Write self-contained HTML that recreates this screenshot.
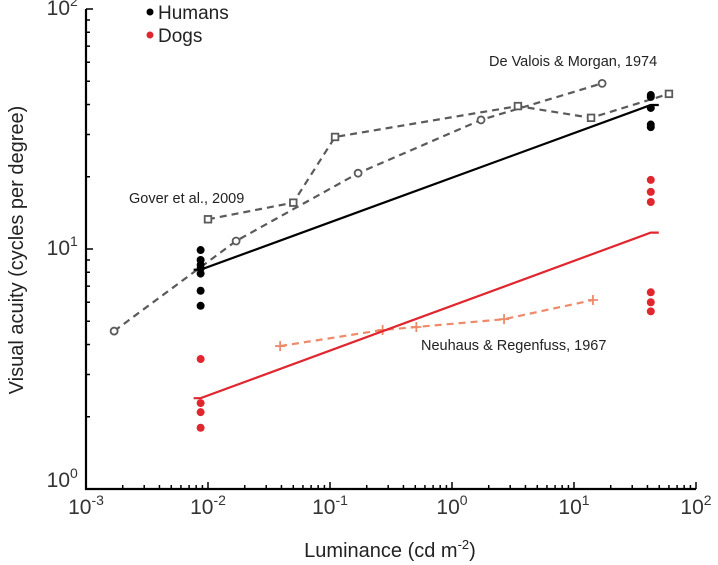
<!DOCTYPE html>
<html><head><meta charset="utf-8"><style>
body{margin:0;background:#fff}
svg{display:block;font-family:"Liberation Sans",sans-serif}
</style></head><body>
<svg id="chart" width="718" height="565"></svg>
<script>
const humansLo=[9.9,9.0,8.6,8.3,7.9,6.7,5.8];
const humansHi=[43.8,43,38.7,33,32.2];
const dogsLo=[3.48,2.28,2.09,1.8];
const dogsHi=[19.4,17.3,15.7,6.6,6.0,5.5];
const xLo=0.0087, xHi=42.6;
const humanFit=[8.2,39.8];
const dogFit=[2.39,11.7];
const goverCircX=[0.0017,0.017,0.17,1.73,17];
const goverCircY=[4.55,10.8,20.7,34.5,49];
const devaloisX=[0.01,0.05,0.11,3.47,13.8,60];
const devaloisY=[13.3,15.6,29.3,39.4,35.2,44.3];
const neuhausX=[0.039,0.27,0.51,2.67,14.3];
const neuhausY=[3.94,4.6,4.73,5.1,6.13];
const xTickExp=[-3,-2,-1,0,1,2];
const yTickExp=[0,1,2];

const NS="http://www.w3.org/2000/svg";
const svg=document.getElementById('chart');
const X0=86,XD=122,Y0=489,YD=240;
const sx=v=>X0+XD*(Math.log10(v)+3);
const sy=v=>Y0-YD*Math.log10(v);
function el(tag,attrs,parent){const e=document.createElementNS(NS,tag);for(const k in attrs)e.setAttribute(k,attrs[k]);(parent||svg).appendChild(e);return e;}

const axes=el('g',{});


el('path',{d:`M${X0} ${Y0-480}V${Y0}H${X0+XD*5}`,fill:'none',stroke:'#000','stroke-width':2.2},axes);
for(let d=-3;d<2;d++){for(let m=2;m<=10;m++){const x=sx(m*Math.pow(10,d));el('line',{x1:x,x2:x,y1:Y0,y2:Y0-(m==10?7:4),stroke:'#000','stroke-width':1.5},axes);}}
for(let d=0;d<2;d++){for(let m=2;m<=10;m++){const y=sy(m*Math.pow(10,d));el('line',{x1:X0,x2:X0+(m==10?7:4),y1:y,y2:y,stroke:'#000','stroke-width':1.5},axes);}}
xTickExp.forEach(e=>{const t=el('text',{x:sx(Math.pow(10,e)),y:Y0+25,'text-anchor':'middle','font-size':21,fill:'#333'},axes);


t.innerHTML=`10<tspan dy="-9" font-size="14">${e}</tspan>`;});
yTickExp.forEach(e=>{const yy=sy(Math.pow(10,e));const t=el('text',{x:X0-16,y:(e==0?yy-2:yy+6),'text-anchor':'end','font-size':21,fill:'#333'},axes);


t.innerHTML=`10<tspan dy="-9" font-size="14" x="${X0-16}" text-anchor="start">${e}</tspan>`;});
const xt=el('text',{x:390,y:557,'text-anchor':'middle','font-size':20,fill:'#222'});


xt.innerHTML='Luminance (cd m<tspan dy="-8" font-size="13">-2</tspan><tspan dy="8">)</tspan>';
const yt=el('text',{x:0,y:0,'text-anchor':'middle','font-size':20,fill:'#222',transform:'translate(23,250) rotate(-90)'});


yt.textContent='Visual acuity (cycles per degree)';

function dashed(xs,ys,color,name){
 const p=el('polyline',{points:xs.map((x,i)=>sx(x)+','+sy(ys[i])).join(' '),fill:'none',stroke:color,'stroke-width':2.2,'stroke-dasharray':'7,5'});
 
 
}
dashed(goverCircX,goverCircY,'#5a5a5a','gover-line');
dashed(devaloisX,devaloisY,'#5a5a5a','devalois-line');
dashed(neuhausX,neuhausY,'#ee8a6a','neuhaus-line');
goverCircX.forEach((x,i)=>{const c=el('circle',{cx:sx(x),cy:sy(goverCircY[i]),r:3.5,fill:'#fff',stroke:'#5a5a5a','stroke-width':1.8});

});
devaloisX.forEach((x,i)=>{const r=el('rect',{x:sx(x)-3.3,y:sy(devaloisY[i])-3.3,width:6.6,height:6.6,fill:'#fff',stroke:'#5a5a5a','stroke-width':1.8});

});
neuhausX.forEach((x,i)=>{const g=el('path',{d:`M${sx(x)-5} ${sy(neuhausY[i])}h10M${sx(x)} ${sy(neuhausY[i])-5}v10`,stroke:'#ee8a6a','stroke-width':1.8});

});

function fit(vals,color,name){
 const x1=sx(xLo),x2=sx(xHi),y1=sy(vals[0]),y2=sy(vals[1]);
 const p=el('path',{d:`M${x1-7} ${y1}H${x1}L${x2} ${y2}H${x2+8}`,fill:'none',stroke:color,'stroke-width':2.2});
 
 
}
fit(humanFit,'#000','human-fit-line');
fit(dogFit,'#e0262e','dog-fit-line');
function dots(x,vals,color,name){vals.forEach(v=>{const c=el('circle',{cx:sx(x),cy:sy(v),r:4,fill:color});

});}
dots(xLo,humansLo,'#000','human-point');
dots(xHi,humansHi,'#000','human-point');
dots(xLo,dogsLo,'#e0262e','dog-point');
dots(xHi,dogsHi,'#e0262e','dog-point');

function label(x,y,txt,name){const t=el('text',{x:x,y:y,'font-size':14.5,fill:'#222'});t.textContent=txt;

}
label(129,203,'Gover et al., 2009','gover-label');
label(489,66,'De Valois & Morgan, 1974','devalois-label');
label(421,350,'Neuhaus & Regenfuss, 1967','neuhaus-label');

const leg=el('g',{});


el('circle',{cx:150,cy:12,r:3.5,fill:'#000'},leg);
el('circle',{cx:150,cy:35,r:3.5,fill:'#e0262e'},leg);
const l1=el('text',{x:158,y:19,'font-size':19,fill:'#222'},leg);l1.textContent='Humans';


const l2=el('text',{x:158,y:42,'font-size':19,fill:'#222'},leg);l2.textContent='Dogs';


</script>
</body></html>
